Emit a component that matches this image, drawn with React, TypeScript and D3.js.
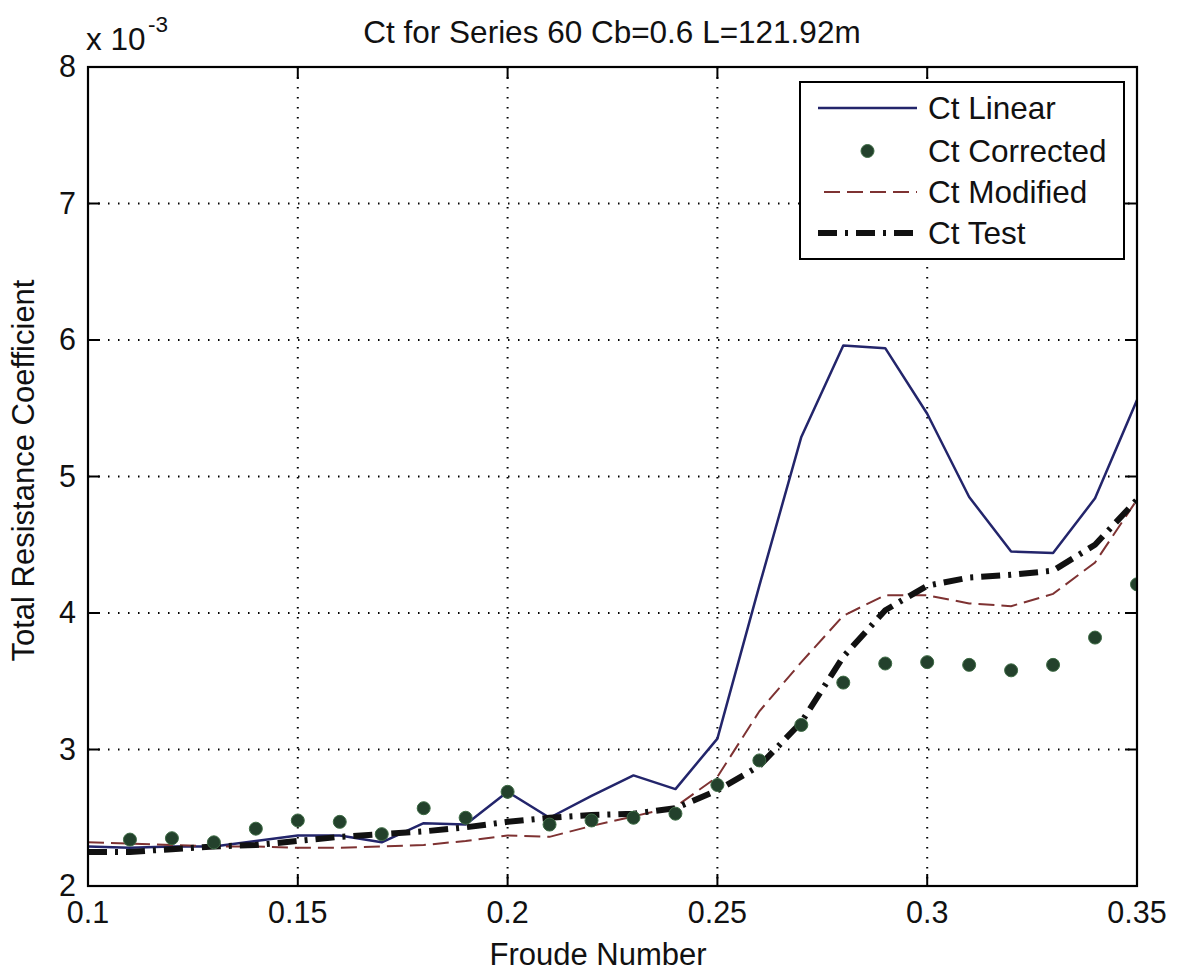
import React from "react";
import * as d3 from "d3";

const froude = [0.1, 0.11, 0.12, 0.13, 0.14, 0.15, 0.16, 0.17, 0.18, 0.19, 0.2, 0.21, 0.22, 0.23, 0.24, 0.25, 0.26, 0.27, 0.28, 0.29, 0.3, 0.31, 0.32, 0.33, 0.34, 0.35];
const ctLinear = [2.29, 2.28, 2.29, 2.29, 2.33, 2.37, 2.37, 2.32, 2.46, 2.45, 2.69, 2.5, 2.66, 2.81, 2.71, 3.08, 4.2, 5.29, 5.96, 5.94, 5.46, 4.85, 4.45, 4.44, 4.84, 5.56];
const froudeCorrected = [0.11, 0.12, 0.13, 0.14, 0.15, 0.16, 0.17, 0.18, 0.19, 0.2, 0.21, 0.22, 0.23, 0.24, 0.25, 0.26, 0.27, 0.28, 0.29, 0.3, 0.31, 0.32, 0.33, 0.34, 0.35];
const ctCorrected = [2.34, 2.35, 2.32, 2.42, 2.48, 2.47, 2.38, 2.57, 2.5, 2.69, 2.45, 2.48, 2.5, 2.53, 2.74, 2.92, 3.18, 3.49, 3.63, 3.64, 3.62, 3.58, 3.62, 3.82, 4.21];
const ctModified = [2.32, 2.31, 2.3, 2.29, 2.29, 2.28, 2.28, 2.29, 2.3, 2.33, 2.37, 2.36, 2.44, 2.51, 2.58, 2.8, 3.28, 3.64, 3.98, 4.13, 4.13, 4.07, 4.05, 4.14, 4.37, 4.83];
const ctTest = [2.25, 2.25, 2.27, 2.29, 2.3, 2.33, 2.36, 2.38, 2.4, 2.43, 2.47, 2.5, 2.52, 2.53, 2.57, 2.7, 2.88, 3.2, 3.68, 4.02, 4.2, 4.26, 4.28, 4.31, 4.5, 4.83];
const xTicks = [0.1, 0.15, 0.2, 0.25, 0.3, 0.35];
const xTickLabels = ["0.1", "0.15", "0.2", "0.25", "0.3", "0.35"];
const yTicks = [2, 3, 4, 5, 6, 7, 8];
const legendLabels = ["Ct Linear", "Ct Corrected", "Ct Modified", "Ct Test"];

const W = 1178, H = 977;
const L = 88, R = 1137, T = 67, B = 886;
const FONT = "'Liberation Sans', Arial, Helvetica, sans-serif";
const C_LIN = "#23256b";
const C_DOT = "#23412c";
const C_MOD = "#7e3232";

export default function App() {
  const x = d3.scaleLinear().domain([0.1, 0.35]).range([L, R]);
  const y = d3.scaleLinear().domain([2, 8]).range([B, T]);
  const line = d3.line<number>().x((_, i) => x(froude[i])).y((d) => y(d));

  const legX = 800, legY = 82, legW = 324, legH = 177;
  const rowY = [108, 151, 192, 233];
  const lx1 = 818, lx2 = 917, tx = 928;

  return (
    <svg width={W} height={H} style={{ position: "absolute", left: 0, top: 0, background: "#fff" }} fontFamily={FONT}>
      <rect x={0} y={0} width={W} height={H} fill="#fff" />
      <defs>
        <clipPath id="plotclip">
          <rect x={L} y={T} width={R - L} height={B - T} />
        </clipPath>
      </defs>
      {xTicks.slice(1, -1).map((t) => (
        <line key={"gx" + t} x1={x(t)} x2={x(t)} y1={T} y2={B} stroke="#000" strokeWidth={2} strokeDasharray="1.5 8.5" />
      ))}
      {yTicks.slice(1, -1).map((t) => (
        <line key={"gy" + t} x1={L} x2={R} y1={y(t)} y2={y(t)} stroke="#000" strokeWidth={2} strokeDasharray="1.5 8.5" />
      ))}
      <g clipPath="url(#plotclip)">
        <path d={line(ctLinear) || ""} fill="none" stroke={C_LIN} strokeWidth={2.5} strokeLinejoin="round" />
        <path d={line(ctModified) || ""} fill="none" stroke={C_MOD} strokeWidth={2} strokeDasharray="16 7" />
        <path d={line(ctTest) || ""} fill="none" stroke="#111" strokeWidth={6} strokeDasharray="19 8 3 8" />
        {ctCorrected.map((v, i) => (
          <circle key={"c" + i} cx={x(froudeCorrected[i])} cy={y(v)} r={6.5} fill={C_DOT} stroke="#3d6b44" strokeWidth={1} />
        ))}
      </g>
      <rect x={L} y={T} width={R - L} height={B - T} fill="none" stroke="#000" strokeWidth={2.2} />
      {xTicks.map((t) => (
        <g key={"tx" + t}>
          <line x1={x(t)} x2={x(t)} y1={B} y2={B - 12} stroke="#000" strokeWidth={2} />
          <line x1={x(t)} x2={x(t)} y1={T} y2={T + 12} stroke="#000" strokeWidth={2} />
        </g>
      ))}
      {yTicks.map((t) => (
        <g key={"ty" + t}>
          <line x1={L} x2={L + 12} y1={y(t)} y2={y(t)} stroke="#000" strokeWidth={2} />
          <line x1={R} x2={R - 12} y1={y(t)} y2={y(t)} stroke="#000" strokeWidth={2} />
        </g>
      ))}
      {xTicks.map((t, i) => (
        <text key={"lx" + t} x={x(t)} y={923} fontSize={30.5} textAnchor="middle" fill="#111">{xTickLabels[i]}</text>
      ))}
      {yTicks.map((t) => (
        <text key={"ly" + t} x={76} y={y(t) + 10} fontSize={30.5} textAnchor="end" fill="#111">{t}</text>
      ))}
      <text x={86} y={50} fontSize={31.5} fill="#111">x 10</text>
      <text x={148} y={32} fontSize={22.5} fill="#111">-3</text>
      <text x={612} y={43} fontSize={31.5} textAnchor="middle" fill="#111">Ct for Series 60 Cb=0.6 L=121.92m</text>
      <text x={598} y={965} fontSize={31} textAnchor="middle" fill="#111">Froude Number</text>
      <text transform={`translate(34, ${(T + B) / 2 - 6}) rotate(-90)`} fontSize={31} textAnchor="middle" fill="#111">Total Resistance Coefficient</text>
      <rect x={legX} y={legY} width={legW} height={legH} fill="#fff" stroke="#000" strokeWidth={2} />
      <line x1={lx1} x2={lx2} y1={rowY[0]} y2={rowY[0]} stroke={C_LIN} strokeWidth={2.5} />
      <circle cx={(lx1 + lx2) / 2} cy={rowY[1]} r={6.5} fill={C_DOT} stroke="#3d6b44" strokeWidth={1} />
      <line x1={lx1 + 6} x2={lx2} y1={rowY[2]} y2={rowY[2]} stroke={C_MOD} strokeWidth={2} strokeDasharray="16 7" />
      <line x1={lx1} x2={lx2} y1={rowY[3]} y2={rowY[3]} stroke="#111" strokeWidth={6} strokeDasharray="19 8 3 8" />
      {legendLabels.map((s, i) => (
        <text key={s} x={tx} y={rowY[i] + 11} fontSize={31.5} fill="#111">{s}</text>
      ))}
    </svg>
  );
}
